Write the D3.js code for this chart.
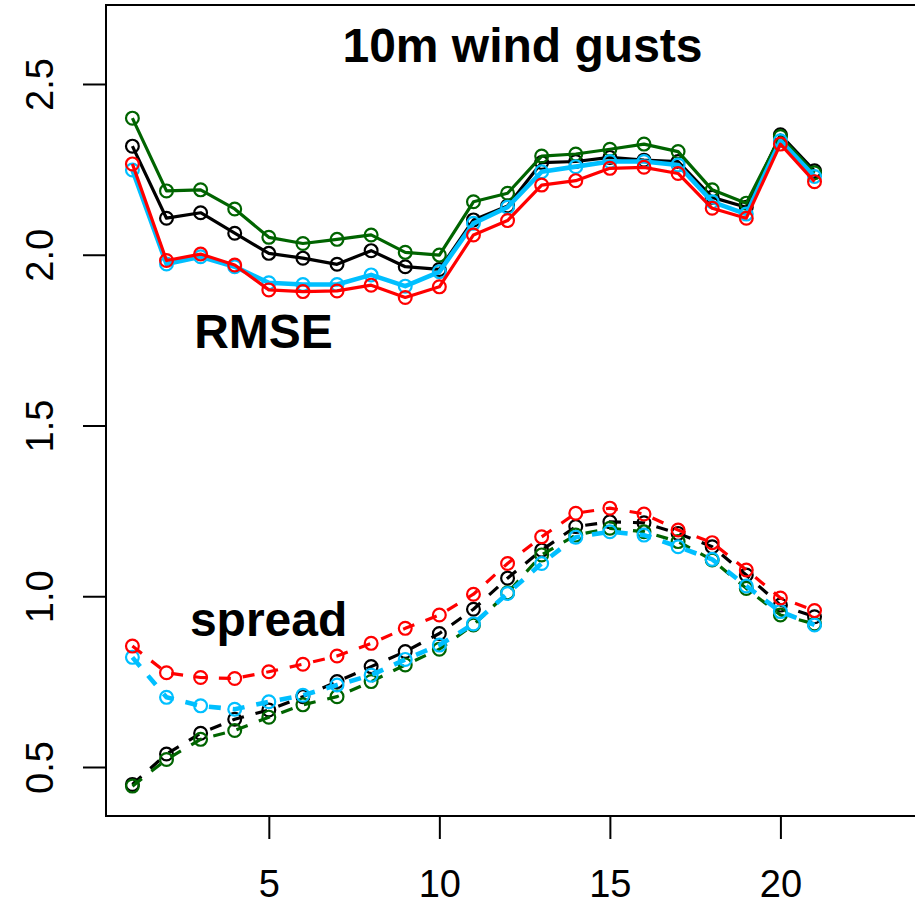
<!DOCTYPE html>
<html>
<head>
<meta charset="utf-8">
<script src="https://cdn.jsdelivr.net/npm/d3@7"></script>
<style>
  html, body { margin: 0; padding: 0; background: #fff; }
  svg { display: block; font-family: "Liberation Sans", Arial, Helvetica, sans-serif; }
</style>
</head>
<body>
<svg id="chart" width="915" height="902"></svg>
<script>
// Forecast lead time (steps)
const leadTimes = [1,2,3,4,5,6,7,8,9,10,11,12,13,14,15,16,17,18,19,20,21];

// RMSE per experiment
const rmseBlack = [2.318,2.107,2.123,2.063,2.004,1.990,1.972,2.012,1.965,1.957,2.102,2.143,2.270,2.273,2.285,2.277,2.273,2.168,2.139,2.351,2.246];
const rmseGreen = [2.400,2.187,2.190,2.134,2.051,2.033,2.045,2.058,2.007,1.999,2.155,2.180,2.289,2.295,2.309,2.324,2.302,2.190,2.151,2.346,2.240];
const rmseBlue  = [2.248,1.973,1.994,1.965,1.918,1.913,1.913,1.941,1.908,1.950,2.092,2.139,2.243,2.258,2.273,2.273,2.263,2.155,2.119,2.334,2.229];
const rmseRed   = [2.266,1.983,2.002,1.970,1.897,1.892,1.894,1.911,1.875,1.906,2.058,2.100,2.204,2.217,2.253,2.256,2.238,2.136,2.107,2.324,2.214];

// Ensemble spread per experiment
const spreadBlack = [0.449,0.538,0.599,0.640,0.667,0.706,0.750,0.794,0.838,0.891,0.962,1.053,1.135,1.204,1.218,1.215,1.184,1.145,1.062,0.974,0.940];
const spreadGreen = [0.444,0.522,0.581,0.607,0.646,0.682,0.706,0.750,0.799,0.845,0.916,1.010,1.121,1.179,1.199,1.189,1.160,1.106,1.023,0.945,0.919];
const spreadBlue  = [0.821,0.704,0.679,0.669,0.691,0.710,0.740,0.769,0.815,0.857,0.919,1.008,1.096,1.173,1.189,1.179,1.145,1.108,1.030,0.955,0.916];
const spreadRed   = [0.854,0.776,0.762,0.759,0.779,0.801,0.825,0.862,0.906,0.945,1.006,1.096,1.174,1.243,1.258,1.241,1.194,1.157,1.077,0.995,0.958];

// Axis ticks
const xTicks = [5, 10, 15, 20];
const yTicks = [0.5, 1.0, 1.5, 2.0, 2.5];

const svg = d3.select("#chart");

// Plot region (extends past the right edge of the canvas)
const plotLeft = 106, plotRight = 939, plotTop = 5, plotBottom = 816;

const x = d3.scaleLinear().domain([0.226, 24.65]).range([plotLeft, plotRight]);
const y = d3.scaleLinear().domain([0.3565, 2.7313]).range([plotBottom, plotTop]);

// Series in drawing order: colour, line width, values, dashed?
const series = [
  { color: "#000000", lw: 3.2, values: rmseBlack,   dash: null },
  { color: "#006400", lw: 3.2, values: rmseGreen,   dash: null },
  { color: "#00BFFF", lw: 4.6, values: rmseBlue,    dash: null },
  { color: "#FF0000", lw: 3.2, values: rmseRed,     dash: null },
  { color: "#000000", lw: 3.2, values: spreadBlack, dash: "12,12" },
  { color: "#006400", lw: 3.2, values: spreadGreen, dash: "12,12" },
  { color: "#00BFFF", lw: 4.6, values: spreadBlue,  dash: "12,12" },
  { color: "#FF0000", lw: 3.2, values: spreadRed,   dash: "12,12" }
];

const line = d3.line()
  .x((d, i) => x(leadTimes[i]))
  .y(d => y(d));

const plot = svg.append("g");

series.forEach(s => {
  plot.append("path")
    .attr("d", line(s.values))
    .attr("fill", "none")
    .attr("stroke", s.color)
    .attr("stroke-width", s.lw)
    .attr("stroke-linejoin", "round")
    .attr("stroke-dasharray", s.dash);
  plot.selectAll(null)
    .data(s.values)
    .enter()
    .append("circle")
    .attr("cx", (d, i) => x(leadTimes[i]))
    .attr("cy", d => y(d))
    .attr("r", 6.4)
    .attr("fill", "none")
    .attr("stroke", s.color)
    .attr("stroke-width", 2.2);
});

// Frame
svg.append("rect")
  .attr("x", plotLeft).attr("y", plotTop)
  .attr("width", plotRight - plotLeft).attr("height", plotBottom - plotTop)
  .attr("fill", "none")
  .attr("stroke", "#000")
  .attr("stroke-width", 2);

// Left axis
const yAxis = svg.append("g")
  .attr("transform", `translate(${plotLeft},0)`)
  .call(d3.axisLeft(y).tickValues(yTicks).tickSize(23).tickFormat(d3.format(".1f")));
yAxis.select(".domain").remove();
yAxis.selectAll(".tick line").attr("stroke", "#000").attr("stroke-width", 2);
yAxis.selectAll(".tick text")
  .attr("x", null).attr("dy", null)
  .attr("transform", "translate(-53,0) rotate(-90)")
  .attr("text-anchor", "middle")
  .attr("font-size", 38)
  .attr("font-family", "Liberation Sans, Arial, sans-serif")
  .attr("fill", "#000")
  .attr("y", 0);

// Bottom axis
const xAxis = svg.append("g")
  .attr("transform", `translate(0,${plotBottom})`)
  .call(d3.axisBottom(x).tickValues(xTicks).tickSize(23).tickFormat(d3.format("d")));
xAxis.select(".domain").remove();
xAxis.selectAll(".tick line").attr("stroke", "#000").attr("stroke-width", 2);
xAxis.selectAll(".tick text")
  .attr("y", 81).attr("dy", null)
  .attr("font-size", 38)
  .attr("font-family", "Liberation Sans, Arial, sans-serif")
  .attr("fill", "#000");

// Labels
svg.append("text")
  .attr("x", 522.5).attr("y", 61.7)
  .attr("text-anchor", "middle")
  .attr("font-size", 48).attr("font-weight", "bold")
  .text("10m wind gusts");

svg.append("text")
  .attr("x", 263.5).attr("y", 348.3)
  .attr("text-anchor", "middle")
  .attr("font-size", 48).attr("font-weight", "bold")
  .text("RMSE");

svg.append("text")
  .attr("x", 268.6).attr("y", 636)
  .attr("text-anchor", "middle")
  .attr("font-size", 48).attr("font-weight", "bold")
  .text("spread");
</script>
</body>
</html>
